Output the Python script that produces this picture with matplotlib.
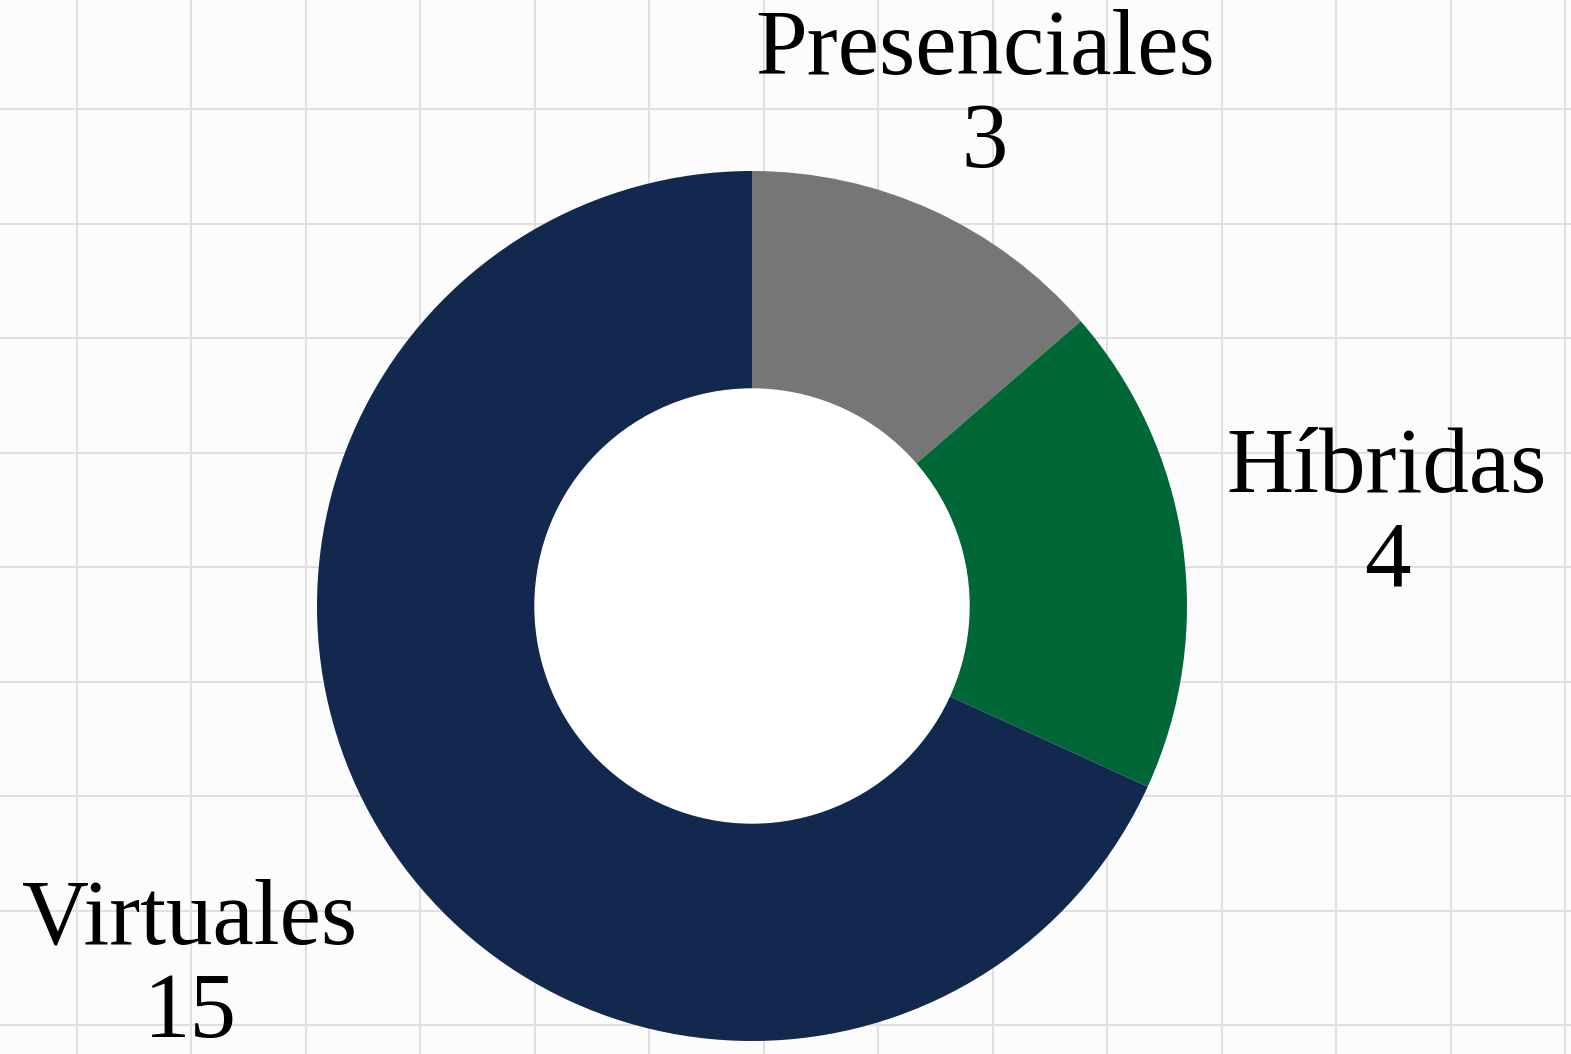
import numpy as np
import matplotlib.pyplot as plt

# datos del grafico
categorias = ['Presenciales', 'Híbridas', 'Virtuales']
valores = [3, 4, 15]
colores = ['#767676', '#006837', '#13284f']

W, H = 1571, 1054
fig = plt.figure(figsize=(W / 100, H / 100), dpi=100)
fig.patch.set_facecolor('#fcfcfc')

ax = fig.add_axes([0, 0, 1, 1])
ax.set_xlim(0, W)
ax.set_ylim(0, H)
ax.set_aspect('equal')
ax.axis('off')

# cuadricula de fondo (papel cuadriculado)
for x in np.arange(77, W, 114.5):
    ax.axvline(x, color='#e0e0e0', lw=1.4, zorder=0)
for y in np.arange(109, H, 114.5):
    ax.axhline(H - y, color='#e0e0e0', lw=1.4, zorder=0)

cx, cy = 752, H - 606
R = 435
wedges, _ = ax.pie(valores, colors=colores, startangle=90, counterclock=False,
                   center=(cx, cy), radius=R, frame=True,
                   wedgeprops=dict(width=218, linewidth=0))
ax.set_xlim(0, W)
ax.set_ylim(0, H)
ax.axis('off')
# hueco blanco del centro
ax.add_patch(plt.Circle((cx, cy), R - 218, color='white', zorder=3))

posiciones = [(985, 98), (1387, 516), (190, 968)]
for cat, val, (px, py) in zip(categorias, valores, posiciones):
    ax.text(px, H - py, '%s\n%d' % (cat, val), ha='center', va='center',
            fontsize=67, family='Liberation Serif', linespacing=1.13, zorder=5)

fig.savefig('out.png', dpi=100, facecolor=fig.get_facecolor())
